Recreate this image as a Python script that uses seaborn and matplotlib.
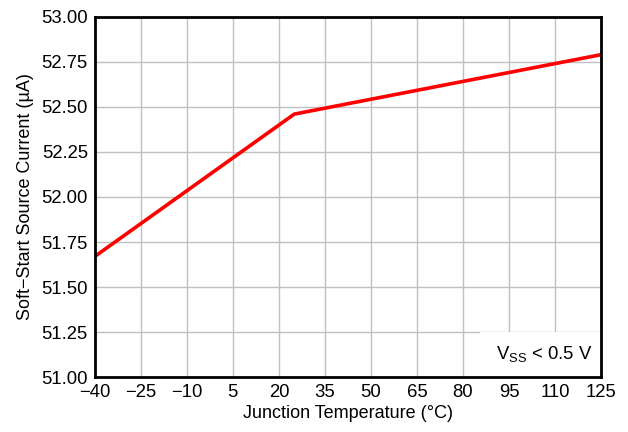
import matplotlib
matplotlib.use("Agg")
import matplotlib.pyplot as plt
import seaborn as sns
import pandas as pd
from matplotlib.patches import Rectangle

temperature = [-40, 25, 125]
current = [51.67, 52.46, 52.79]
x_ticks = [-40, -25, -10, 5, 20, 35, 50, 65, 80, 95, 110, 125]
y_ticks = [51.00, 51.25, 51.50, 51.75, 52.00, 52.25, 52.50, 52.75, 53.00]

sns.set_theme(style="white")
plt.rcParams['font.family'] = ['Liberation Sans', 'DejaVu Sans']

df = pd.DataFrame({"T": temperature, "I": current})

fig = plt.figure(figsize=(6.28, 4.32), dpi=100)
ax = fig.add_axes([0.151, 0.127, 0.806, 0.834])

sns.lineplot(data=df, x="T", y="I", ax=ax, color="#ff0000", linewidth=2.6)

ax.set_xlim(-40, 125)
ax.set_ylim(51.0, 53.0)
ax.set_xticks(x_ticks)
ax.set_xticklabels([str(v).replace('-', '\u2212') for v in x_ticks])
ax.set_yticks(y_ticks)
ax.set_yticklabels([f"{v:.2f}" for v in y_ticks])
ax.grid(True, color="#c0c0c0", linewidth=1.0)
ax.tick_params(axis='both', length=0, labelsize=13.3, colors='black', pad=5)
for s in ax.spines.values():
    s.set_color('black')
    s.set_linewidth(2)
    s.set_zorder(3)

ax.set_xlabel("Junction Temperature (°C)", fontsize=13, color='black', labelpad=3)
ax.set_ylabel("Soft\u2212Start Source Current (µA)", fontsize=13, color='black', labelpad=5)

ax.add_patch(Rectangle((0.761, 0.0), 0.239, 0.125, transform=ax.transAxes,
                       facecolor='white', edgecolor='none', zorder=2.2))
ax.text(0.984, 0.064, r"V$_{\mathregular{SS}}$ < 0.5 V", transform=ax.transAxes,
        ha='right', va='center', fontsize=13.3, color='black', zorder=2.3)

fig.savefig("out.png", dpi=100)
